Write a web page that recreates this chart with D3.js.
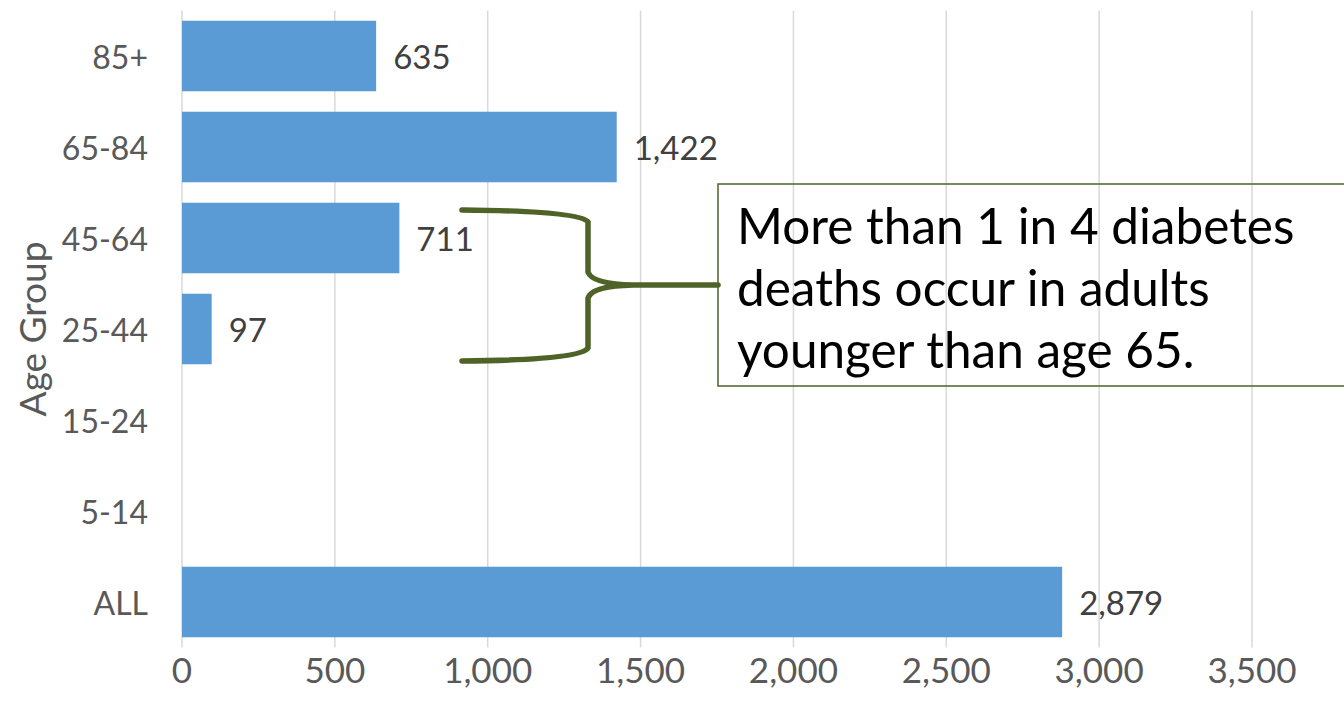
<!DOCTYPE html>
<html lang="en">
<head>
<meta charset="utf-8">
<title>Diabetes deaths by age group</title>
<script src="https://d3js.org/d3.v7.min.js"></script>
<style>
  body { margin: 0; background: #fff; }
  svg text { font-family: Lato, "Open Sans", sans-serif; }
  .grid line { stroke: #d9d9d9; stroke-width: 1.5; }
  .tick-label { fill: #595959; font-size: 32px; }
  .x-label { font-size: 35px; }
  .axis-title { fill: #595959; font-size: 37px; }
  .bar { fill: #5b9bd5; }
  .value { fill: #404040; font-size: 33px; }
  .note { fill: #000; font-size: 49.5px; }
</style>
</head>
<body>
<div id="chart"></div>
<script>
// data
var ageGroups = ["85+", "65-84", "45-64", "25-44", "15-24", "5-14", "ALL"];
var deaths = [635, 1422, 711, 97, null, null, 2879];
var xTicks = [0, 500, 1000, 1500, 2000, 2500, 3000, 3500];
var noteLines = ["More than 1 in 4 diabetes", "deaths occur in adults", "younger than age 65."];

var W = 1344, H = 713;
var margin = {top: 10.5, right: 92, bottom: 65.5, left: 182};
var iw = W - margin.left - margin.right,
    ih = H - margin.top - margin.bottom;

var svg = d3.select("#chart").append("svg")
    .attr("width", W).attr("height", H);

var g = svg.append("g").attr("transform", "translate(" + margin.left + "," + margin.top + ")");

var x = d3.scaleLinear().domain([0, 3500]).range([0, iw]);
var y = d3.scaleBand().domain(ageGroups).range([0, ih]).paddingInner(0.225).paddingOuter(0.1125);

// gridlines
g.append("g").attr("class", "grid")
  .selectAll("line").data(xTicks).enter().append("line")
  .attr("x1", d => x(d)).attr("x2", d => x(d))
  .attr("y1", 0).attr("y2", ih);

// x tick labels
g.selectAll(".xt").data(xTicks).enter().append("text")
  .attr("class", "tick-label x-label")
  .attr("x", d => x(d)).attr("y", ih + 21)
  .attr("text-anchor", "middle").attr("dominant-baseline", "central")
  .text(d => d3.format(",")(d));

// y tick labels
g.selectAll(".yt").data(ageGroups).enter().append("text")
  .attr("class", "tick-label")
  .attr("x", -34).attr("y", d => y(d) + y.bandwidth() / 2)
  .attr("text-anchor", "end").attr("dominant-baseline", "central")
  .text(d => d);

// axis title
svg.append("text")
  .attr("class", "axis-title")
  .attr("transform", "translate(31," + (margin.top + ih / 2) + ") rotate(-90)")
  .attr("text-anchor", "middle").attr("dominant-baseline", "central")
  .text("Age Group");

var rows = ageGroups.map((a, i) => ({group: a, value: deaths[i]})).filter(d => d.value != null);

g.selectAll(".bar").data(rows).enter().append("rect")
  .attr("class", "bar")
  .attr("x", 0).attr("y", d => y(d.group))
  .attr("width", d => x(d.value)).attr("height", y.bandwidth());

g.selectAll(".value").data(rows).enter().append("text")
  .attr("class", "value")
  .attr("x", d => x(d.value) + 17).attr("y", d => y(d.group) + y.bandwidth() / 2)
  .attr("dominant-baseline", "central")
  .text(d => d3.format(",")(d.value));

// brace annotation
var olive = "#4f6228";
var brace = d3.path();
brace.moveTo(462, 210);
brace.quadraticCurveTo(580, 211, 588, 222);
brace.lineTo(588, 272);
brace.quadraticCurveTo(592, 284, 633, 285);
brace.lineTo(718, 285);
brace.moveTo(633, 285);
brace.quadraticCurveTo(592, 286, 588, 298);
brace.lineTo(588, 348);
brace.quadraticCurveTo(580, 360, 462, 361);
svg.append("path").attr("d", brace.toString())
  .attr("fill", "none").attr("stroke", olive).attr("stroke-width", 5.5)
  .attr("stroke-linecap", "round");

svg.append("rect")
  .attr("x", 718).attr("y", 184).attr("width", 640).attr("height", 202)
  .attr("fill", "none").attr("stroke", olive).attr("stroke-width", 1.5);

svg.selectAll(".note").data(noteLines).enter().append("text")
  .attr("class", "note")
  .attr("x", 737).attr("y", (d, i) => 244 + i * 62)
  .text(d => d);
</script>
</body>
</html>
